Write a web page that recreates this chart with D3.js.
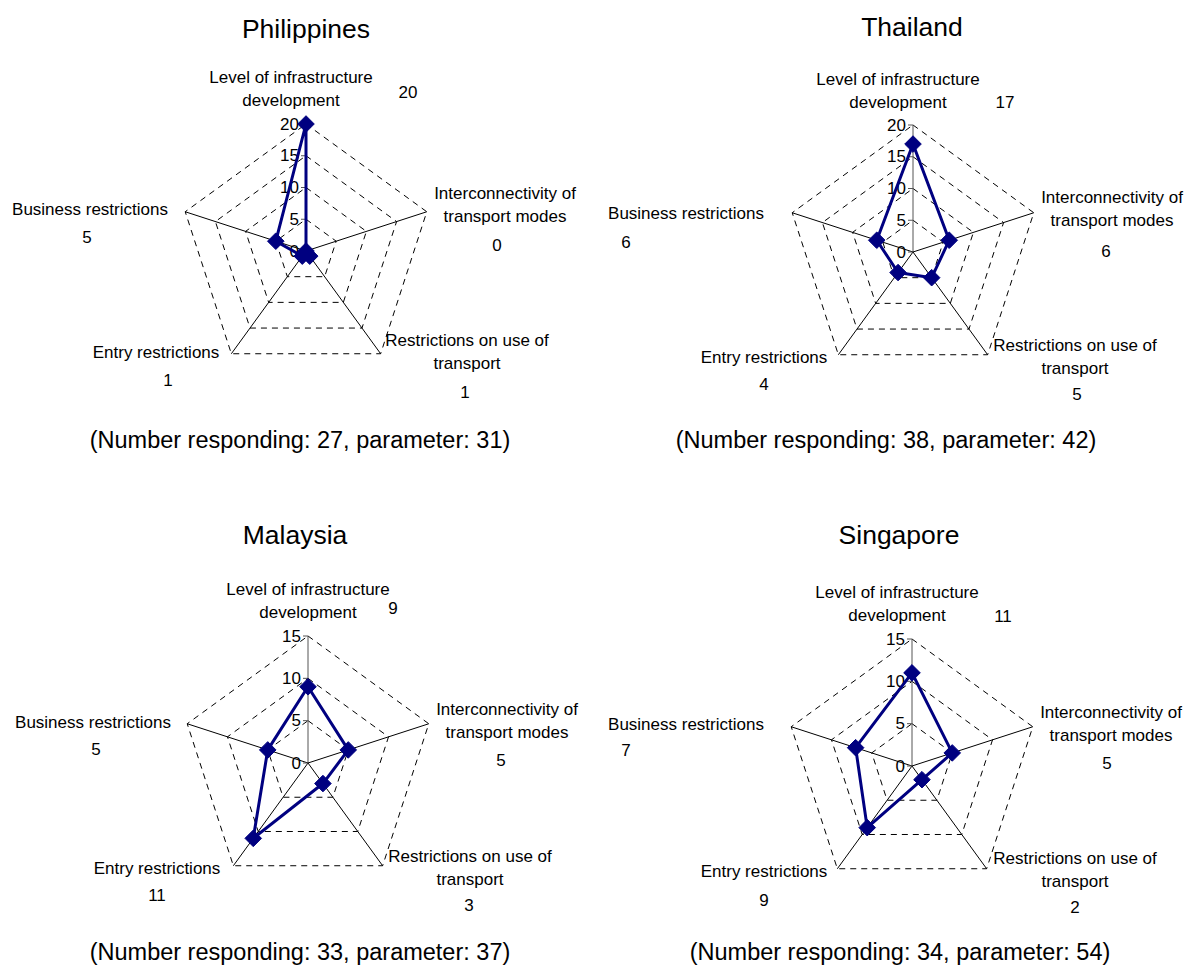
<!DOCTYPE html>
<html>
<head>
<meta charset="utf-8">
<script src="https://cdn.jsdelivr.net/npm/d3@7"></script>
<style>
  html, body { margin: 0; padding: 0; background: #fff; }
  svg { display: block; font-family: "Liberation Sans", Arial, sans-serif; }
</style>
</head>
<body>
<svg id="chart" width="1194" height="978"></svg>
<script>
// ---- DATA ----
const countries = ["Philippines", "Thailand", "Malaysia", "Singapore"];
const categories = [
  "Level of infrastructure development",
  "Interconnectivity of transport modes",
  "Restrictions on use of transport",
  "Entry restrictions",
  "Business restrictions"
];
const categoryLines = [
  ["Level of infrastructure", "development"],
  ["Interconnectivity of", "transport modes"],
  ["Restrictions on use of", "transport"],
  ["Entry restrictions"],
  ["Business restrictions"]
];
const philippinesValues = [20, 0, 1, 1, 5];
const thailandValues    = [17, 6, 5, 4, 6];
const malaysiaValues    = [9, 5, 3, 11, 5];
const singaporeValues   = [11, 5, 2, 9, 7];
const ticks20 = [0, 5, 10, 15, 20];
const ticks15 = [0, 5, 10, 15];
const numberResponding = [27, 38, 33, 34];
const parameterCounts  = [31, 42, 37, 54];

// ---- LAYOUT (positions only) ----
const R = 127;
const layouts = [
  { cx: 306, cy: 251, title: [306, 29], sub: [300, 440],
    cat: [[-15, -174], [199, -58], [161, 89], [-150, 101], [-216, -42]],
    val: [[102, -159], [191, -6], [159, 141], [-138, 129], [-219, -14]] },
  { cx: 913, cy: 252, title: [912, 27], sub: [886, 440],
    cat: [[-15, -173], [199, -55], [162, 93], [-149, 105], [-227, -39]],
    val: [[92, -150], [193, -1], [164, 142], [-149, 132], [-287, -10]] },
  { cx: 308, cy: 763, title: [295, 535], sub: [300, 952],
    cat: [[0, -174], [199, -54], [162, 93], [-151, 105], [-215, -41]],
    val: [[85, -155], [193, -3], [161, 142], [-151, 132], [-212, -14]] },
  { cx: 912, cy: 766, title: [899, 535], sub: [900, 952],
    cat: [[-15, -174], [199, -54], [163, 92], [-148, 105], [-226, -42]],
    val: [[91, -150], [195, -3], [163, 141], [-148, 134], [-286, -16]] }
];

const series = [
  { values: philippinesValues, ticks: ticks20 },
  { values: thailandValues, ticks: ticks20 },
  { values: malaysiaValues, ticks: ticks15 },
  { values: singaporeValues, ticks: ticks15 }
];

const svg = d3.select("#chart");
const navy = "#000080";
const n = categories.length;
const angle = i => i * 2 * Math.PI / n;

countries.forEach((country, ci) => {
  const L = layouts[ci];
  const S = series[ci];
  const maxV = d3.max(S.ticks);
  const r = d3.scaleLinear().domain([0, maxV]).range([0, R]);
  const px = (i, v) => L.cx + r(v) * Math.sin(angle(i));
  const py = (i, v) => L.cy - r(v) * Math.cos(angle(i));
  const g = svg.append("g");

  // gridlines (dashed pentagons)
  S.ticks.filter(t => t > 0).forEach(t => {
    const pts = d3.range(n).map(i => [px(i, t), py(i, t)]);
    g.append("path")
      .attr("d", d3.line()(pts) + "Z")
      .attr("fill", "none")
      .attr("stroke", "#000")
      .attr("stroke-width", 1)
      .attr("stroke-dasharray", "6,5");
  });

  // spokes
  d3.range(n).forEach(i => {
    g.append("line")
      .attr("x1", L.cx).attr("y1", L.cy)
      .attr("x2", px(i, maxV)).attr("y2", py(i, maxV))
      .attr("stroke", i === 0 ? "#555" : "#000")
      .attr("stroke-width", 1);
  });

  // value axis ticks and labels
  S.ticks.forEach(t => {
    const y = py(0, t);
    g.append("line")
      .attr("x1", L.cx - 5).attr("x2", L.cx)
      .attr("y1", y).attr("y2", y)
      .attr("stroke", "#555").attr("stroke-width", 1);
    g.append("text")
      .attr("x", L.cx - 7).attr("y", y)
      .attr("text-anchor", "end")
      .attr("dominant-baseline", "central")
      .attr("font-size", 17)
      .attr("fill", "#000")
      .text(t);
  });

  // data polygon
  const dataPts = S.values.map((v, i) => [px(i, v), py(i, v)]);
  g.append("path")
    .attr("d", d3.line()(dataPts) + "Z")
    .attr("fill", "none")
    .attr("stroke", navy)
    .attr("stroke-width", 3)
    .attr("stroke-linejoin", "round");

  // markers
  g.selectAll("path.marker")
    .data(S.values)
    .enter().append("path")
    .attr("class", "marker")
    .attr("d", d3.symbol().type(d3.symbolDiamond2 || d3.symbolDiamond).size(175))
    .attr("transform", (v, i) => `translate(${px(i, v)},${py(i, v)})`)
    .attr("fill", navy)
    .attr("stroke", navy)
    .attr("stroke-width", 1);

  // category labels
  categoryLines.forEach((lines, i) => {
    lines.forEach((line, li) => {
      g.append("text")
        .attr("x", L.cx + L.cat[i][0])
        .attr("y", L.cy + L.cat[i][1] + li * 23)
        .attr("text-anchor", "middle")
        .attr("dominant-baseline", "central")
        .attr("font-size", 17)
        .text(line);
    });
    g.append("text")
      .attr("x", L.cx + L.val[i][0])
      .attr("y", L.cy + L.val[i][1])
      .attr("text-anchor", "middle")
      .attr("dominant-baseline", "central")
      .attr("font-size", 17)
      .text(S.values[i]);
  });

  // title
  g.append("text")
    .attr("x", L.title[0]).attr("y", L.title[1])
    .attr("text-anchor", "middle")
    .attr("dominant-baseline", "central")
    .attr("font-size", 26.5)
    .text(country);

  // subtitle
  g.append("text")
    .attr("x", L.sub[0]).attr("y", L.sub[1])
    .attr("text-anchor", "middle")
    .attr("dominant-baseline", "central")
    .attr("font-size", 23.5)
    .text(`(Number responding: ${numberResponding[ci]}, parameter: ${parameterCounts[ci]})`);
});
</script>
</body>
</html>
